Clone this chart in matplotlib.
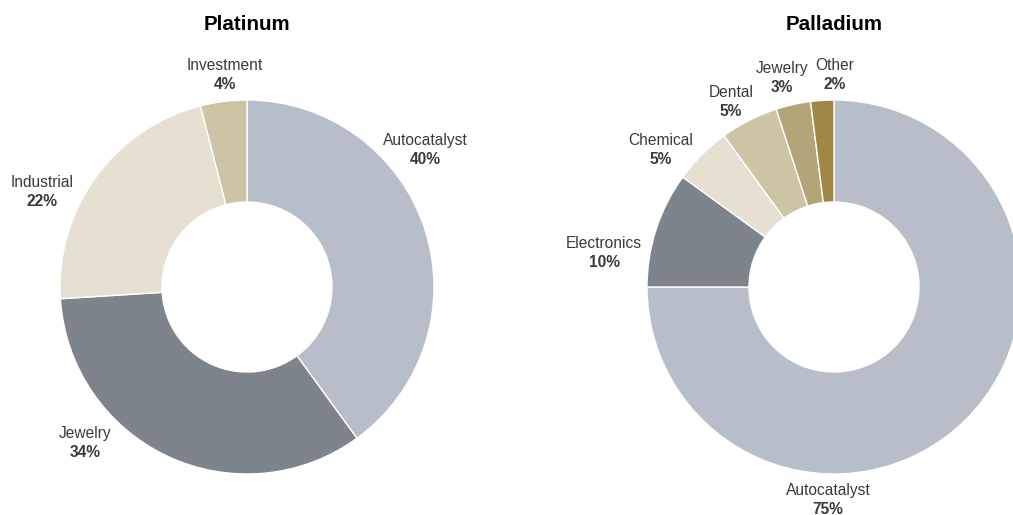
import matplotlib.pyplot as plt

plt.rcParams['font.family'] = ['Liberation Sans', 'DejaVu Sans']

# Platinum demand
platinumLabels = ['Autocatalyst', 'Jewelry', 'Industrial', 'Investment']
platinumValues = [40, 34, 22, 4]
platinumColors = ['#b7bec9', '#7d848b', '#e6e0d3', '#cdc3a5']

# Palladium demand
palladiumLabels = ['Autocatalyst', 'Electronics', 'Chemical', 'Dental', 'Jewelry', 'Other']
palladiumValues = [75, 10, 5, 5, 3, 2]
palladiumColors = ['#b7bec9', '#7d848b', '#e6e0d3', '#cdc3a5', '#b4a47a', '#9f8843']

# label offsets from donut centre, in pixels
platinumOffsets = [(178, 137), (-162, -156), (-205, 95), (-22, 212)]
palladiumOffsets = [(-6, -213), (-230, 34), (-173, 137), (-103, 185), (-52, 209), (1, 212)]

W, H = 1013, 515
fig = plt.figure(figsize=(W / 100, H / 100), dpi=100)
ax = fig.add_axes([0, 0, 1, 1])
ax.set_xlim(0, W)
ax.set_ylim(0, H)
ax.set_aspect('equal')
ax.axis('off')

radius = 187
hole = 85
textColor = '#3a3a3a'


def donut(cx, cy, title, labels, values, colors, offsets):
    ax.pie(values, colors=colors, startangle=90, counterclock=False,
           radius=radius, center=(cx, cy),
           wedgeprops=dict(width=radius - hole, edgecolor='white', linewidth=1))
    ax.text(cx, H - 24, title, ha='center', va='center', fontsize=14.8,
            fontweight='bold', color='black')
    for lab, val, (dx, dy) in zip(labels, values, offsets):
        ax.text(cx + dx, cy + dy + 9.5, lab, ha='center', va='center',
                fontsize=11.2, color=textColor)
        ax.text(cx + dx, cy + dy - 9.5, str(val) + '%', ha='center', va='center',
                fontsize=11.2, fontweight='bold', color=textColor)


donut(247, H - 287, 'Platinum', platinumLabels, platinumValues, platinumColors, platinumOffsets)
donut(834, H - 287, 'Palladium', palladiumLabels, palladiumValues, palladiumColors, palladiumOffsets)

ax.set_xlim(0, W)
ax.set_ylim(0, H)
fig.savefig('out.png', dpi=100)
